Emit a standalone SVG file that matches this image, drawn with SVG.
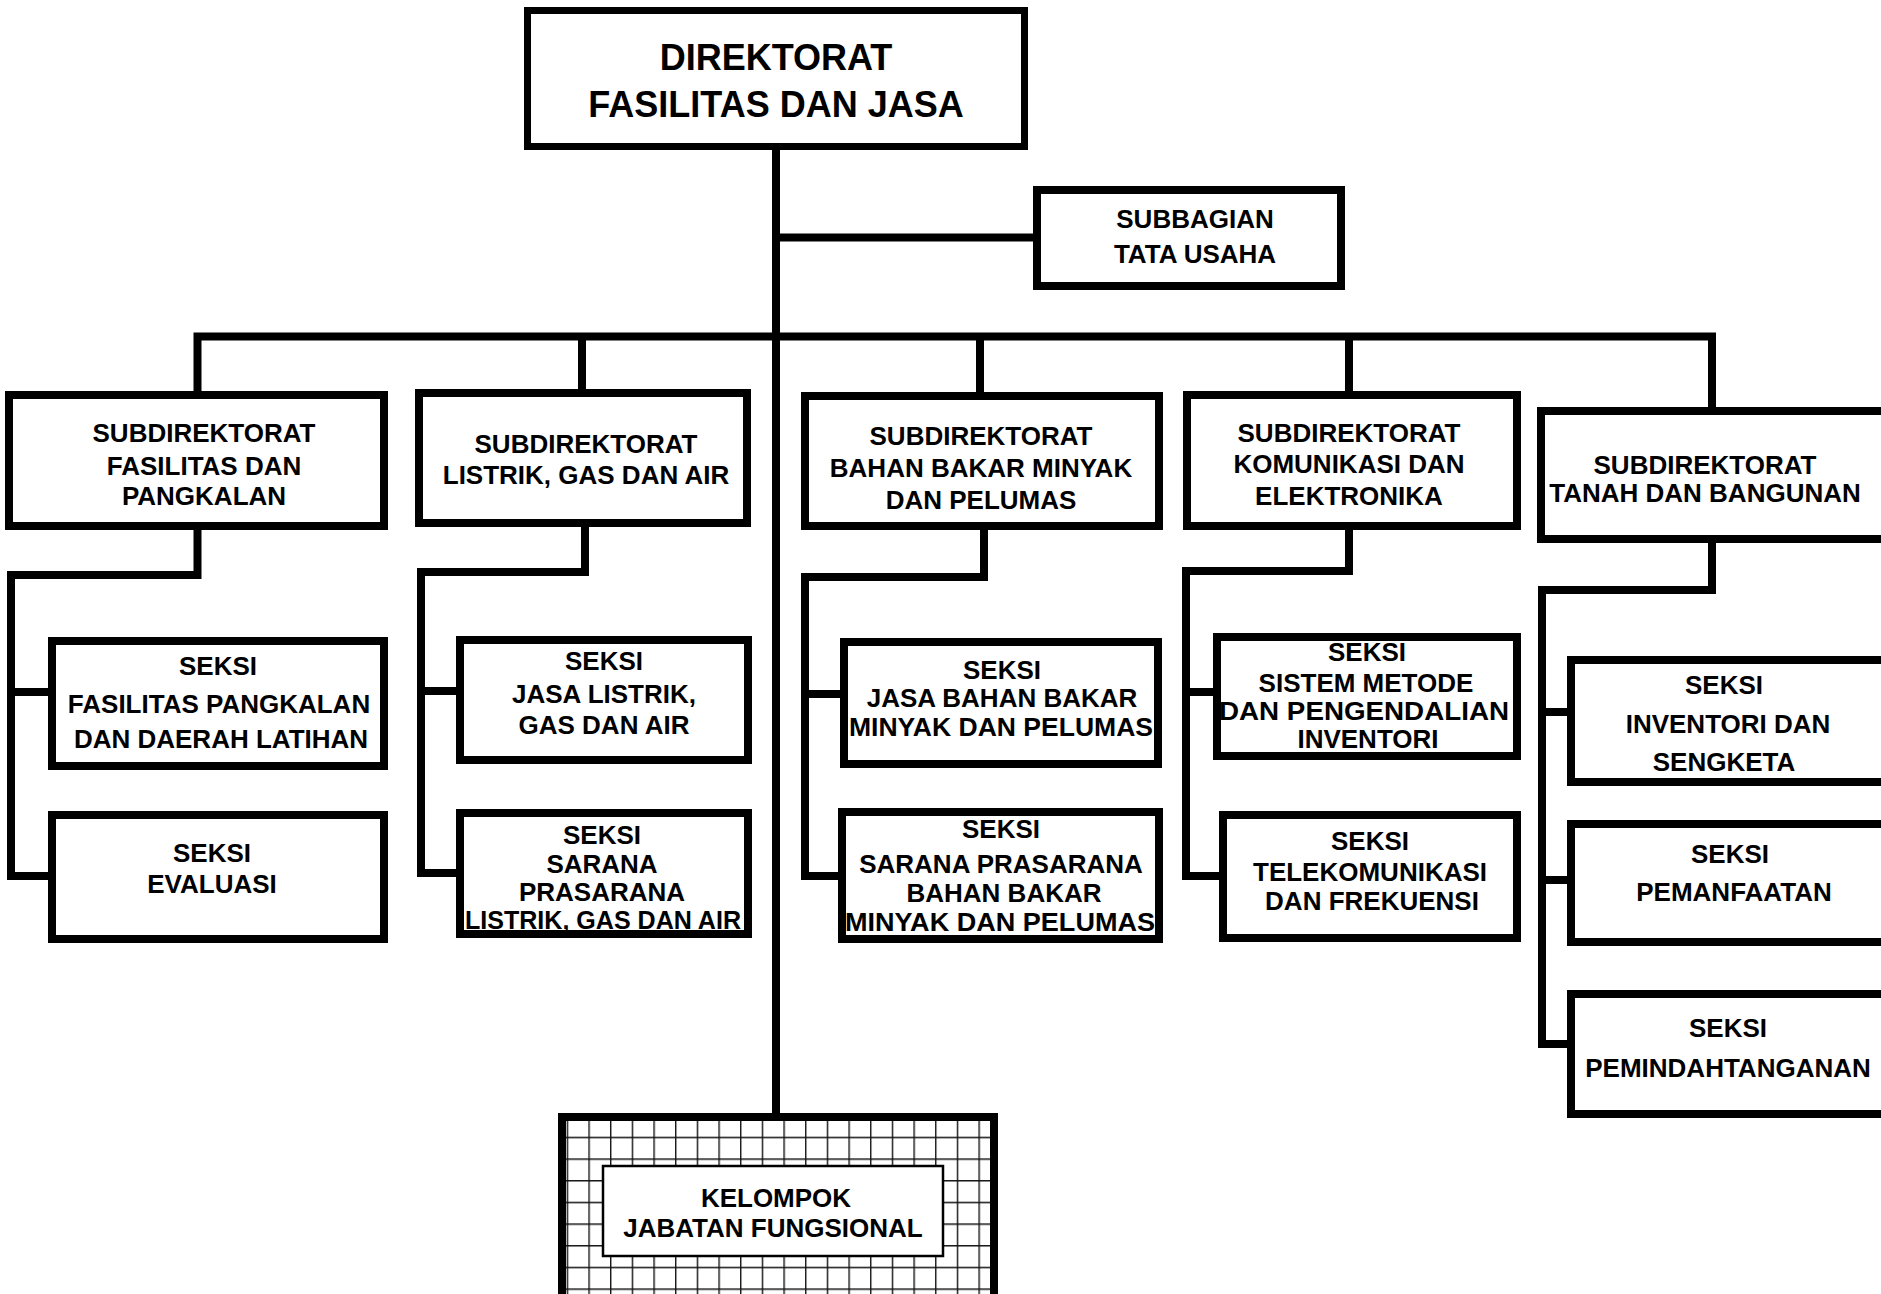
<svg xmlns="http://www.w3.org/2000/svg" width="1881" height="1294" viewBox="0 0 1881 1294">
<style>
.box{fill:#fff;stroke:#000;stroke-width:8}
.ln{fill:none;stroke:#000;stroke-width:8}
.t{font-family:"Liberation Sans",Arial,sans-serif;font-weight:bold;font-size:26px;text-anchor:middle;fill:#000}
.big{font-size:36px}
</style>
<defs>
<pattern id="grid" patternUnits="userSpaceOnUse" x="566.7" y="1136.7" width="21.67" height="21.67">
<rect width="21.67" height="21.67" fill="#fff"/>
<path d="M0 0 V21.67 M0 0 H21.67" stroke="#111" stroke-width="2.8" fill="none"/>
</pattern>
</defs>
<rect width="1881" height="1294" fill="#fff"/>
<g id="connectors">
<path class="ln" d="M776 150 V1117"/>
<path class="ln" d="M776 237.5 H1037"/>
<path class="ln" d="M197.5 395 V336.5 H1712 V411"/>
<path class="ln" d="M582 336.5 V393"/>
<path class="ln" d="M980 336.5 V396"/>
<path class="ln" d="M1349 336.5 V395"/>
<path class="ln" d="M197.5 526 V575 H11 V876 H52"/>
<path class="ln" d="M11 692 H52"/>
<path class="ln" d="M585 523 V572 H421 V873 H460"/>
<path class="ln" d="M421 691 H460"/>
<path class="ln" d="M984 526 V577 H805 V876 H842"/>
<path class="ln" d="M805 694 H844"/>
<path class="ln" d="M1349 526 V571 H1186 V876 H1223"/>
<path class="ln" d="M1186 692 H1217"/>
<path class="ln" d="M1712 539 V590 H1542 V1044 H1571"/>
<path class="ln" d="M1542 712 H1571"/>
<path class="ln" d="M1542 880 H1571"/>
</g>
<g id="direktorat">
<rect class="box" x="527.5" y="10.5" width="497" height="136" style="stroke-width:7"/>
<text class="t big" x="776" y="70">DIREKTORAT</text>
<text class="t big" x="776" y="117">FASILITAS DAN JASA</text>
</g>
<g id="subbagian-tata-usaha">
<rect class="box" x="1037" y="190" width="304" height="96"/>
<text class="t" x="1195" y="228">SUBBAGIAN</text>
<text class="t" x="1195" y="263">TATA USAHA</text>
</g>
<g id="subdit-fasilitas-pangkalan">
<rect class="box" x="9" y="395" width="375" height="131"/>
<text class="t" x="204" y="442">SUBDIREKTORAT</text>
<text class="t" x="204" y="475">FASILITAS DAN</text>
<text class="t" x="204" y="505">PANGKALAN</text>
</g>
<g id="subdit-listrik-gas-air">
<rect class="box" x="419" y="393" width="328" height="130"/>
<text class="t" x="586" y="453">SUBDIREKTORAT</text>
<text class="t" x="586" y="484">LISTRIK, GAS DAN AIR</text>
</g>
<g id="subdit-bbm-pelumas">
<rect class="box" x="805" y="396" width="354" height="130"/>
<text class="t" x="981" y="445">SUBDIREKTORAT</text>
<text class="t" x="981" y="477">BAHAN BAKAR MINYAK</text>
<text class="t" x="981" y="509">DAN PELUMAS</text>
</g>
<g id="subdit-komunikasi-elektronika">
<rect class="box" x="1187" y="395" width="330" height="131"/>
<text class="t" x="1349" y="442">SUBDIREKTORAT</text>
<text class="t" x="1349" y="473">KOMUNIKASI DAN</text>
<text class="t" x="1349" y="505">ELEKTRONIKA</text>
</g>
<g id="subdit-tanah-bangunan">
<rect class="box" x="1541" y="411" width="360" height="128"/>
<text class="t" x="1705" y="474">SUBDIREKTORAT</text>
<text class="t" x="1705" y="502">TANAH DAN BANGUNAN</text>
</g>
<g id="seksi-fasilitas-pangkalan">
<rect class="box" x="52" y="641" width="332" height="125"/>
<text class="t" x="218" y="675">SEKSI</text>
<text class="t" x="219" y="713">FASILITAS PANGKALAN</text>
<text class="t" x="221" y="748">DAN DAERAH LATIHAN</text>
</g>
<g id="seksi-evaluasi">
<rect class="box" x="52" y="815" width="332" height="124"/>
<text class="t" x="212" y="862">SEKSI</text>
<text class="t" x="212" y="893">EVALUASI</text>
</g>
<g id="seksi-jasa-listrik">
<rect class="box" x="460" y="640" width="288" height="120"/>
<text class="t" x="604" y="670">SEKSI</text>
<text class="t" x="604" y="703">JASA LISTRIK,</text>
<text class="t" x="604" y="734">GAS DAN AIR</text>
</g>
<g id="seksi-sarpras-listrik">
<rect class="box" x="460" y="813" width="288" height="121"/>
<text class="t" x="602" y="844">SEKSI</text>
<text class="t" x="602" y="873">SARANA</text>
<text class="t" x="602" y="901">PRASARANA</text>
<text class="t" x="603" y="929" textLength="276" lengthAdjust="spacingAndGlyphs">LISTRIK, GAS DAN AIR</text>
</g>
<g id="seksi-jasa-bbm">
<rect class="box" x="844" y="642" width="314" height="122"/>
<text class="t" x="1002" y="679">SEKSI</text>
<text class="t" x="1002" y="707">JASA BAHAN BAKAR</text>
<text class="t" x="1001" y="736" textLength="304" lengthAdjust="spacingAndGlyphs">MINYAK DAN PELUMAS</text>
</g>
<g id="seksi-sarpras-bbm">
<rect class="box" x="842" y="812" width="317" height="127"/>
<text class="t" x="1001" y="838">SEKSI</text>
<text class="t" x="1001" y="873">SARANA PRASARANA</text>
<text class="t" x="1004" y="902">BAHAN  BAKAR</text>
<text class="t" x="1000" y="931" textLength="310" lengthAdjust="spacingAndGlyphs">MINYAK DAN PELUMAS</text>
</g>
<g id="seksi-sistem-metode">
<rect class="box" x="1217" y="637" width="300" height="119"/>
<text class="t" x="1367" y="661">SEKSI</text>
<text class="t" x="1366" y="692">SISTEM METODE</text>
<text class="t" x="1364" y="720" textLength="290" lengthAdjust="spacingAndGlyphs">DAN PENGENDALIAN</text>
<text class="t" x="1368" y="748">INVENTORI</text>
</g>
<g id="seksi-telekomunikasi">
<rect class="box" x="1223" y="815" width="294" height="123"/>
<text class="t" x="1370" y="850">SEKSI</text>
<text class="t" x="1370" y="881">TELEKOMUNIKASI</text>
<text class="t" x="1372" y="910">DAN FREKUENSI</text>
</g>
<g id="seksi-inventori-sengketa">
<rect class="box" x="1571" y="660" width="330" height="122"/>
<text class="t" x="1724" y="694">SEKSI</text>
<text class="t" x="1728" y="733">INVENTORI DAN</text>
<text class="t" x="1724" y="771">SENGKETA</text>
</g>
<g id="seksi-pemanfaatan">
<rect class="box" x="1571" y="824" width="330" height="118"/>
<text class="t" x="1730" y="863">SEKSI</text>
<text class="t" x="1734" y="901">PEMANFAATAN</text>
</g>
<g id="seksi-pemindahtanganan">
<rect class="box" x="1571" y="994" width="330" height="120"/>
<text class="t" x="1728" y="1037">SEKSI</text>
<text class="t" x="1728" y="1077">PEMINDAHTANGANAN</text>
</g>
<g id="kelompok-jabatan-fungsional">
<rect x="562" y="1117" width="432" height="200" fill="url(#grid)" stroke="#000" stroke-width="8"/>
<rect x="603" y="1166" width="340" height="90" fill="#fff" stroke="#000" stroke-width="2.5"/>
<text class="t" x="776" y="1207">KELOMPOK</text>
<text class="t" x="773" y="1237">JABATAN FUNGSIONAL</text>
</g>
</svg>
